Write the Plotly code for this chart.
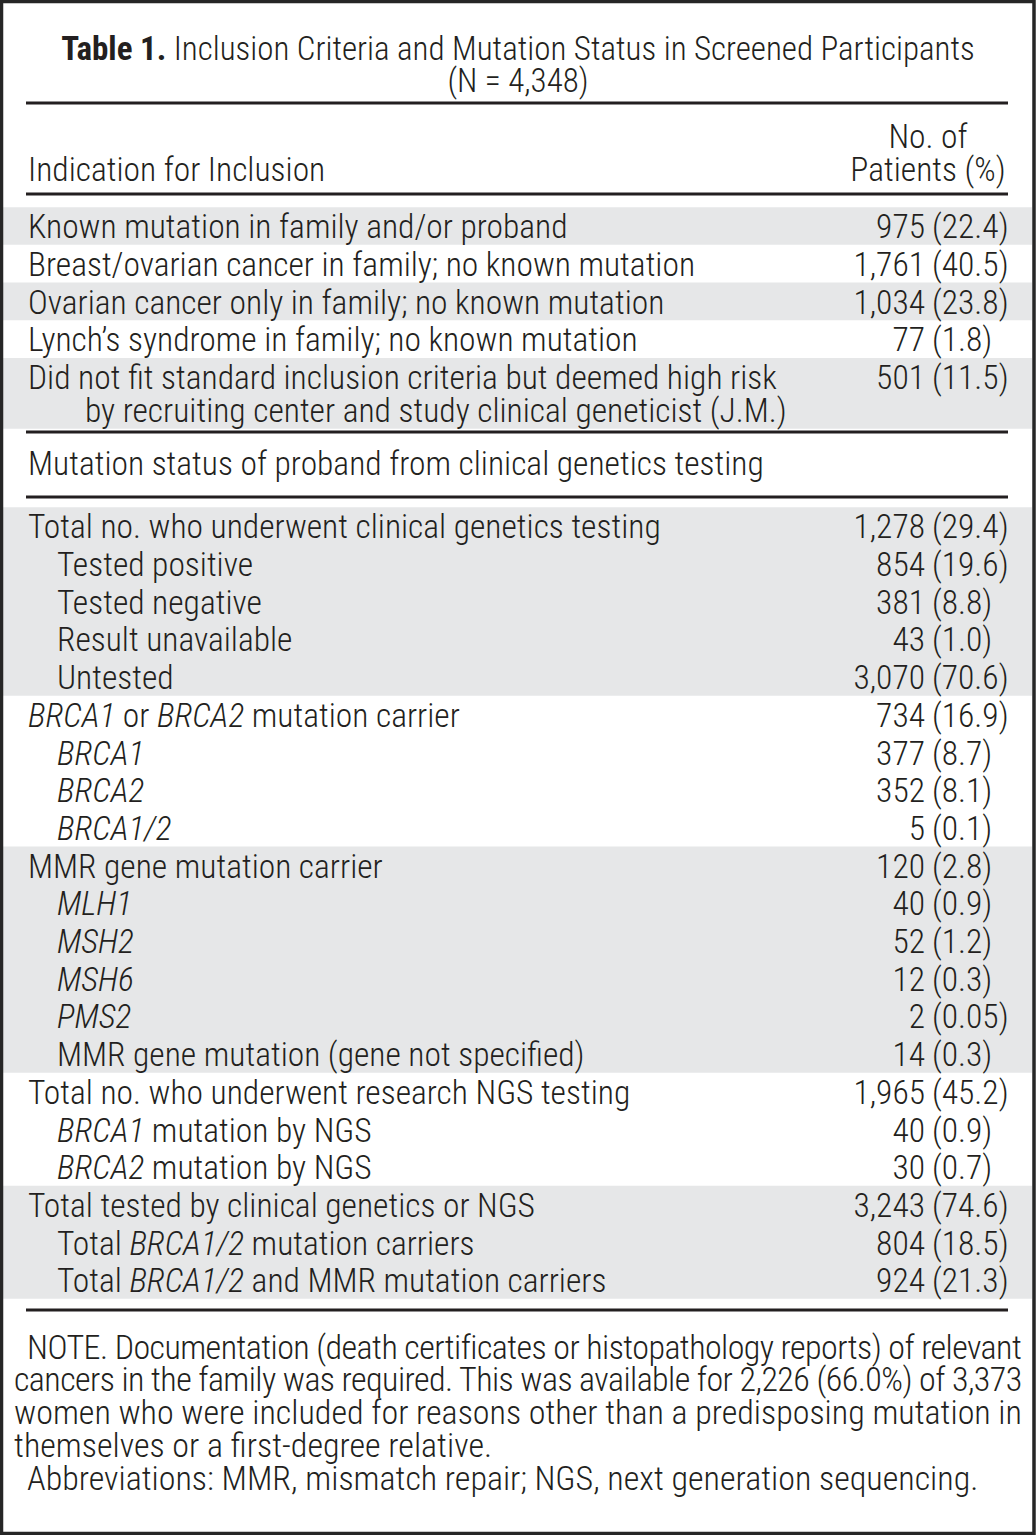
import plotly.graph_objects as go

# ---------------- data ----------------
title_line1 = "<b>Table 1.</b> Inclusion Criteria and Mutation Status in Screened Participants"
title_line2 = "(N = 4,348)"
header_left = "Indication for Inclusion"
header_right = ["No. of", "Patients (%)"]

sec1_labels = [
    "Known mutation in family and/or proband",
    "Breast/ovarian cancer in family; no known mutation",
    "Ovarian cancer only in family; no known mutation",
    "Lynch\u2019s syndrome in family; no known mutation",
    "Did not fit standard inclusion criteria but deemed high risk",
]
sec1_cont = "by recruiting center and study clinical geneticist (J.M.)"
sec1_counts = ["975", "1,761", "1,034", "77", "501"]
sec1_pcts = ["(22.4)", "(40.5)", "(23.8)", "(1.8)", "(11.5)"]
sec1_shaded = [True, False, True, False, True]

sec2_header = "Mutation status of proband from clinical genetics testing"
sec2_labels = [
    "Total no. who underwent clinical genetics testing",
    "Tested positive",
    "Tested negative",
    "Result unavailable",
    "Untested",
    "<i>BRCA1</i> or <i>BRCA2</i> mutation carrier",
    "<i>BRCA1</i>",
    "<i>BRCA2</i>",
    "<i>BRCA1/2</i>",
    "MMR gene mutation carrier",
    "<i>MLH1</i>",
    "<i>MSH2</i>",
    "<i>MSH6</i>",
    "<i>PMS2</i>",
    "MMR gene mutation (gene not specified)",
    "Total no. who underwent research NGS testing",
    "<i>BRCA1</i> mutation by NGS",
    "<i>BRCA2</i> mutation by NGS",
    "Total tested by clinical genetics or NGS",
    "Total <i>BRCA1/2</i> mutation carriers",
    "Total <i>BRCA1/2</i> and MMR mutation carriers",
]
sec2_indent = [0, 1, 1, 1, 1, 0, 1, 1, 1, 0, 1, 1, 1, 1, 1, 0, 1, 1, 0, 1, 1]
sec2_counts = ["1,278", "854", "381", "43", "3,070", "734", "377", "352", "5",
               "120", "40", "52", "12", "2", "14", "1,965", "40", "30",
               "3,243", "804", "924"]
sec2_pcts = ["(29.4)", "(19.6)", "(8.8)", "(1.0)", "(70.6)", "(16.9)", "(8.7)", "(8.1)", "(0.1)",
             "(2.8)", "(0.9)", "(1.2)", "(0.3)", "(0.05)", "(0.3)", "(45.2)", "(0.9)", "(0.7)",
             "(74.6)", "(18.5)", "(21.3)"]
sec2_groups = [(0, 4), (5, 8), (9, 14), (15, 17), (18, 20)]
sec2_group_shaded = [True, False, True, False, True]

note_lines = [
    "NOTE. Documentation (death certificates or histopathology reports) of relevant",
    "cancers in the family was required. This was available for 2,226 (66.0%) of 3,373",
    "women who were included for reasons other than a predisposing mutation in",
    "themselves or a first-degree relative.",
    "Abbreviations: MMR, mismatch repair; NGS, next generation sequencing.",
]
note_indent = [1, 0, 0, 0, 1]
note_tracking = [-0.56, -0.56, 0, 0, 0]   # justification tracking (px)

# ---------------- style / layout constants ----------------
W, H = 1036, 1535
FONT = "Roboto Condensed"
INK = "#231f20"
SHADE = "#e6e7e8"
FS = 33.5
TITLE_FS = 33
NOTE_FS = 34
ROW = 37.7
TEXT_DY = 4
X_LABEL = 28
INDENT = 29
X_COUNT = 925
X_PCT = 932
RULE_X0, RULE_X1 = 26, 1008

fig = go.Figure()

def add_text(xs, ys, texts, pos, size=FS, weight=300):
    fig.add_trace(go.Scatter(
        x=xs, y=[v + TEXT_DY for v in ys], text=texts, mode="text", textposition=pos,
        textfont=dict(family=FONT, size=size, color=INK, weight=weight),
        hoverinfo="skip", showlegend=False, cliponaxis=False))

def band(y0, y1):
    fig.add_shape(type="rect", xref="x", yref="y", x0=3, x1=1032, y0=y0, y1=y1,
                  fillcolor=SHADE, line=dict(width=0), layer="below")

def rule(y):
    fig.add_shape(type="line", xref="x", yref="y", x0=RULE_X0, x1=RULE_X1, y0=y, y1=y,
                  line=dict(color=INK, width=3))

# title
add_text([518, 518], [48, 80], [title_line1, title_line2], "middle center", size=TITLE_FS)
rule(103)

# header
add_text([X_LABEL], [169], [header_left], "middle right")
add_text([928, 928], [136, 169], header_right, "middle center")
rule(194)

# section 1
y1 = [226 + ROW * i for i in range(len(sec1_labels))]
for i, sh in enumerate(sec1_shaded):
    if sh:
        top = y1[i] - ROW / 2
        bot = y1[i] + ROW / 2 + (33 if i == len(sec1_labels) - 1 else 0)
        band(top, bot)
add_text([X_LABEL] * len(sec1_labels) + [X_LABEL + 57], y1 + [y1[-1] + 33],
         sec1_labels + [sec1_cont], "middle right")
add_text([X_COUNT] * len(sec1_counts), y1, sec1_counts, "middle left")
add_text([X_PCT] * len(sec1_pcts), y1, sec1_pcts, "middle right")
rule(432)

# section 2 header
add_text([X_LABEL], [463], [sec2_header], "middle right")
rule(497)

# section 2
y2 = [526 + ROW * i for i in range(len(sec2_labels))]
for (a, b), sh in zip(sec2_groups, sec2_group_shaded):
    if sh:
        band(y2[a] - ROW / 2, y2[b] + ROW / 2)
add_text([X_LABEL + INDENT * k for k in sec2_indent], y2, sec2_labels, "middle right")
add_text([X_COUNT] * len(sec2_counts), y2, sec2_counts, "middle left")
add_text([X_PCT] * len(sec2_pcts), y2, sec2_pcts, "middle right")
rule(1310)

# notes
yn = [1346 + 32.75 * i for i in range(len(note_lines))]
note_text = [
    (f'<span style="letter-spacing:{t}px">{s}</span>' if t else s)
    for s, t in zip(note_lines, note_tracking)
]
add_text([14 + 13 * k for k in note_indent], yn, note_text, "middle right", size=NOTE_FS)

# frame
fig.add_shape(type="rect", xref="x", yref="y", x0=1.5, x1=1034, y0=1.5, y1=1533.5,
              line=dict(color="#262626", width=3.5))

fig.update_xaxes(range=[0, W], visible=False, fixedrange=True)
fig.update_yaxes(range=[H, 0], visible=False, fixedrange=True)
fig.update_layout(width=W, height=H, margin=dict(l=0, r=0, t=0, b=0),
                  plot_bgcolor="white", paper_bgcolor="white")
fig.write_html("out.html", config={"displayModeBar": False},
               post_script="document.body.style.margin='0';")
